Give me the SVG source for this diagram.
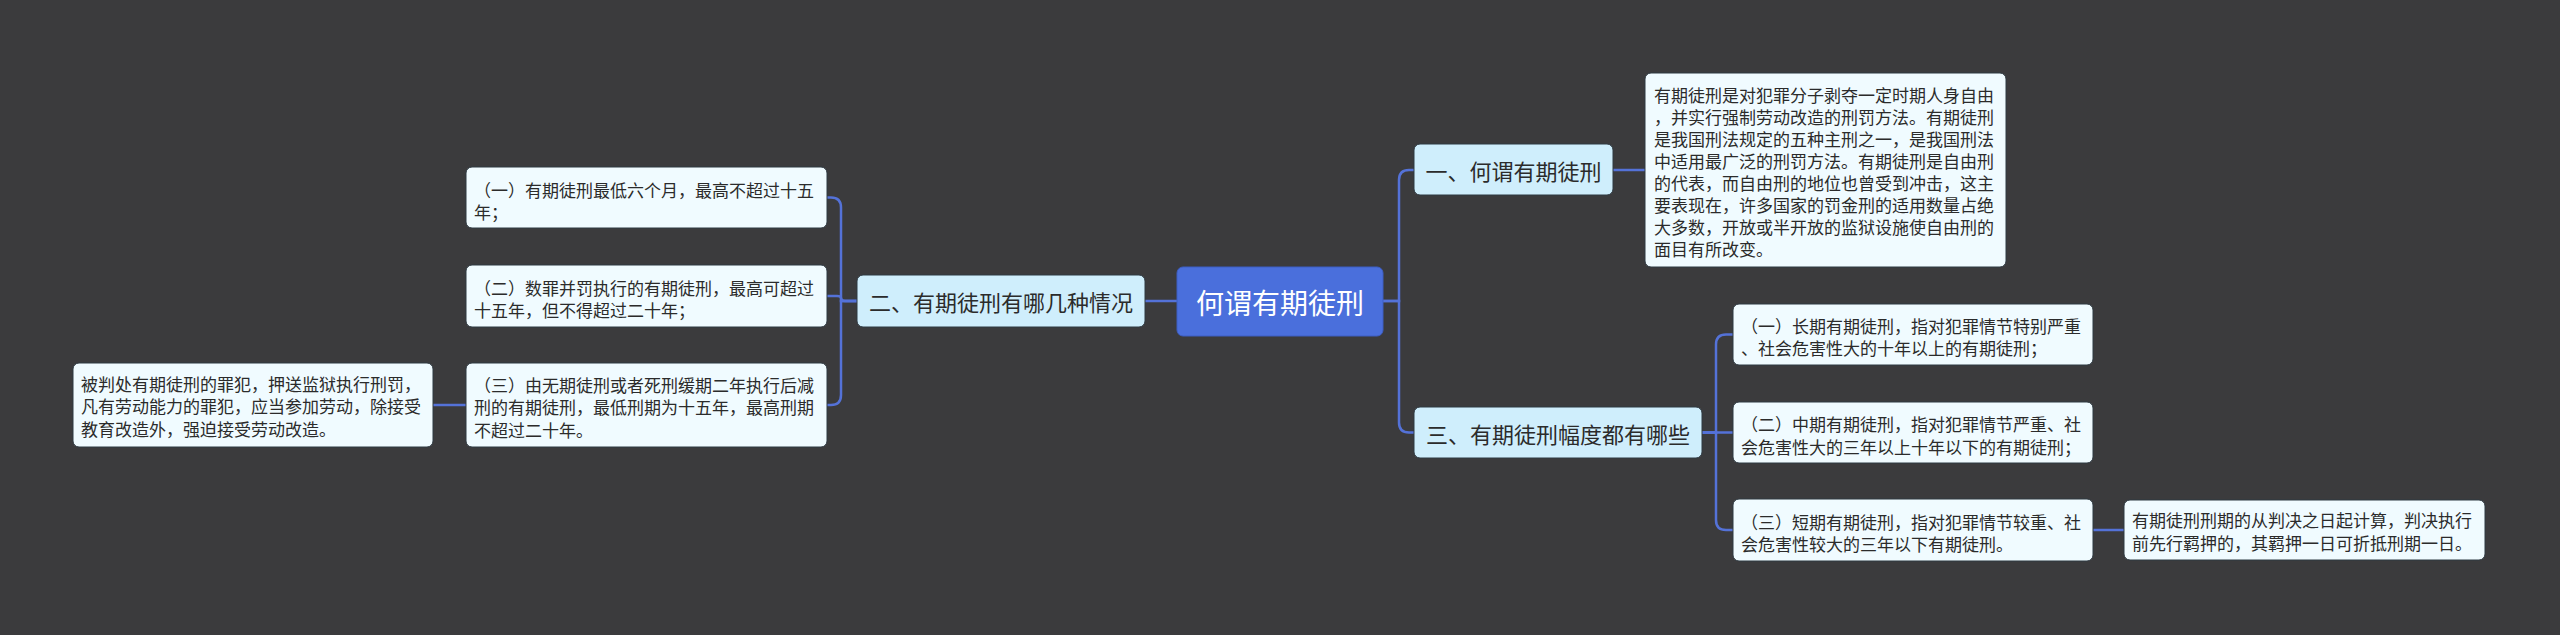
<svg xmlns="http://www.w3.org/2000/svg" width="2560" height="635" viewBox="0 0 2560 635">
<style>
.bg{fill:#3b3b3d}
.root rect{fill:#4a6fdc;stroke:#3d5ec4;stroke-width:1}
.root text{fill:#ffffff;font-size:28px}
.l1 rect{fill:#cfeefc;stroke:#2f3a42;stroke-width:1}
.l1 text{fill:#2b2b2b;font-size:22px}
.leaf rect{fill:#f0fbff;stroke:#2f3a42;stroke-width:1}
.leaf text{fill:#2b2b2b;font-size:17px}
text{font-family:"Noto Sans CJK SC","Noto Sans",sans-serif;dominant-baseline:central}
.c text{text-anchor:middle}
#connectors path{fill:none;stroke:#5472d8;stroke-width:2.5}
</style>
<rect class="bg" x="0" y="0" width="2560" height="635"/>
<g id="connectors">
<path d="M1177 301 H1145"/>
<path d="M857 301 H841 V207.5 Q841 197.5 831 197.5 H827"/>
<path d="M857 301 H845 Q841 301 841 298 Q841 296 837 296 H827"/>
<path d="M857 301 H841 V395 Q841 405 831 405 H827"/>
<path d="M466 405 H433"/>
<path d="M1383 301 H1399 V180 Q1399 170 1409 170 H1414"/>
<path d="M1383 301 H1399 V422.5 Q1399 432.5 1409 432.5 H1414"/>
<path d="M1613 170 H1645"/>
<path d="M1702 432.5 H1716 V344.5 Q1716 334.5 1726 334.5 H1733"/>
<path d="M1702 432.5 H1733"/>
<path d="M1702 432.5 H1716 V520 Q1716 530 1726 530 H1733"/>
<path d="M2093 530 H2124"/>
</g>
<g id="root" class="root c">
<rect x="1177" y="267" width="206" height="69" rx="6"/>
<text x="1280" y="301.5">何谓有期徒刑</text>
</g>
<g id="n1" class="l1 c">
<rect x="1414" y="144" width="199" height="51" rx="6"/>
<text x="1513.5" y="170">一、何谓有期徒刑</text>
</g>
<g id="n2" class="l1 c">
<rect x="857" y="275" width="288" height="52" rx="6"/>
<text x="1001" y="301">二、有期徒刑有哪几种情况</text>
</g>
<g id="n3" class="l1 c">
<rect x="1414" y="407" width="288" height="51" rx="6"/>
<text x="1558" y="432.5">三、有期徒刑幅度都有哪些</text>
</g>
<g id="n1a" class="leaf">
<rect x="1645" y="73" width="361" height="194" rx="6"/>
<text x="1654" y="94">有期徒刑是对犯罪分子剥夺一定时期人身自由</text>
<text x="1654" y="116">，并实行强制劳动改造的刑罚方法。有期徒刑</text>
<text x="1654" y="138">是我国刑法规定的五种主刑之一，是我国刑法</text>
<text x="1654" y="160">中适用最广泛的刑罚方法。有期徒刑是自由刑</text>
<text x="1654" y="182">的代表，而自由刑的地位也曾受到冲击，这主</text>
<text x="1654" y="204">要表现在，许多国家的罚金刑的适用数量占绝</text>
<text x="1654" y="226">大多数，开放或半开放的监狱设施使自由刑的</text>
<text x="1654" y="248">面目有所改变。</text>
</g>
<g id="n2a" class="leaf">
<rect x="466" y="167" width="361" height="61" rx="6"/>
<text x="474" y="189">（一）有期徒刑最低六个月，最高不超过十五</text>
<text x="474" y="211.5">年；</text>
</g>
<g id="n2b" class="leaf">
<rect x="466" y="265" width="361" height="62" rx="6"/>
<text x="474" y="287">（二）数罪并罚执行的有期徒刑，最高可超过</text>
<text x="474" y="309.5">十五年，但不得超过二十年；</text>
</g>
<g id="n2c" class="leaf">
<rect x="466" y="363" width="361" height="84" rx="6"/>
<text x="474" y="384">（三）由无期徒刑或者死刑缓期二年执行后减</text>
<text x="474" y="406.5">刑的有期徒刑，最低刑期为十五年，最高刑期</text>
<text x="474" y="429">不超过二十年。</text>
</g>
<g id="n2c1" class="leaf">
<rect x="73" y="363" width="360" height="84" rx="6"/>
<text x="81" y="383">被判处有期徒刑的罪犯，押送监狱执行刑罚，</text>
<text x="81" y="405.5">凡有劳动能力的罪犯，应当参加劳动，除接受</text>
<text x="81" y="428">教育改造外，强迫接受劳动改造。</text>
</g>
<g id="n3a" class="leaf">
<rect x="1733" y="304" width="360" height="61" rx="6"/>
<text x="1741" y="325">（一）长期有期徒刑，指对犯罪情节特别严重</text>
<text x="1741" y="347.5">、社会危害性大的十年以上的有期徒刑；</text>
</g>
<g id="n3b" class="leaf">
<rect x="1733" y="402" width="360" height="61" rx="6"/>
<text x="1741" y="423.5">（二）中期有期徒刑，指对犯罪情节严重、社</text>
<text x="1741" y="446">会危害性大的三年以上十年以下的有期徒刑；</text>
</g>
<g id="n3c" class="leaf">
<rect x="1733" y="499" width="360" height="62" rx="6"/>
<text x="1741" y="521">（三）短期有期徒刑，指对犯罪情节较重、社</text>
<text x="1741" y="543.5">会危害性较大的三年以下有期徒刑。</text>
</g>
<g id="n3c1" class="leaf">
<rect x="2124" y="500" width="361" height="60" rx="6"/>
<text x="2132" y="519.5">有期徒刑刑期的从判决之日起计算，判决执行</text>
<text x="2132" y="542">前先行羁押的，其羁押一日可折抵刑期一日。</text>
</g>
</svg>
